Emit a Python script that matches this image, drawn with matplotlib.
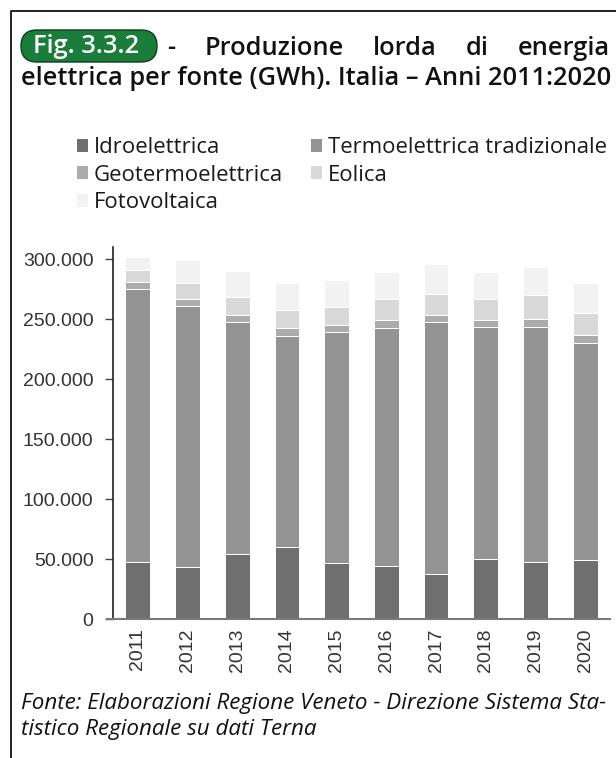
import matplotlib
matplotlib.use("Agg")
import matplotlib.pyplot as plt
from matplotlib.patches import FancyBboxPatch, Patch
from matplotlib.lines import Line2D
from matplotlib.ticker import FuncFormatter

# Gross electricity production by source, Italy (GWh)
years = ["2011", "2012", "2013", "2014", "2015", "2016", "2017", "2018", "2019", "2020"]
idroelettrica = [47757, 43854, 54672, 60256, 46969, 44257, 38025, 50503, 48154, 49495]
termoelettrica = [227700, 217400, 193100, 176200, 192100, 198800, 209500, 192700, 195800, 181100]
geotermoelettrica = [5654, 5592, 5659, 5916, 6185, 6289, 6201, 6105, 6075, 6026]
eolica = [9856, 13407, 14897, 15178, 14844, 17689, 17742, 17716, 20202, 18762]
fotovoltaica = [10796, 18862, 21589, 22306, 22942, 22104, 24378, 22654, 23689, 24942]

series_names = ["Idroelettrica", "Termoelettrica tradizionale", "Geotermoelettrica",
                "Eolica", "Fotovoltaica"]
series_values = [idroelettrica, termoelettrica, geotermoelettrica, eolica, fotovoltaica]
series_colors = ["#6f6f6f", "#939393", "#acacac", "#d9d9d9", "#f2f2f2"]

W, H = 616, 758
fig = plt.figure(figsize=(W / 100, H / 100), dpi=100)
fig.patch.set_facecolor("white")

TEXT_FONT = ["Open Sans", "DejaVu Sans"]
AXIS_FONT = ["Liberation Sans", "DejaVu Sans"]

fig.canvas.draw()
renderer = fig.canvas.get_renderer()


def px(x, y):
    """Figure fraction from pixel position measured from the top-left corner."""
    return x / W, 1 - y / H


def fitted_size(text, target_px, **kw):
    """Font size at which the text spans target_px pixels."""
    t = fig.text(0, 0, text, fontsize=10, **kw)
    w = t.get_window_extent(renderer).width
    t.remove()
    return 10 * target_px / w


# Outer frame (left and top edges)
fig.add_artist(Line2D([11 / W, 11 / W, 1.0], [0.0, 1 - 11 / H, 1 - 11 / H],
                      transform=fig.transFigure, color="#111111", lw=1.3))

# Chart area
ax_left, ax_right, ax_top, ax_bottom = 113, 610, 247.3, 619.3
ax = fig.add_axes([ax_left / W, 1 - ax_bottom / H, (ax_right - ax_left) / W,
                   (ax_bottom - ax_top) / H])

x = range(len(years))
bottom = [0] * len(years)
for name, vals, col in zip(series_names, series_values, series_colors):
    ax.bar(x, vals, width=0.5, bottom=bottom, color=col, edgecolor="white",
           linewidth=0.7, label=name, zorder=2)
    bottom = [b + v for b, v in zip(bottom, vals)]

ax.set_xlim(-0.5, len(years) - 0.5)
ax.set_ylim(0, 310000)
ax.set_yticks([0, 50000, 100000, 150000, 200000, 250000, 300000])
ax.yaxis.set_major_formatter(FuncFormatter(lambda v, p: f"{int(v):,}".replace(",", ".")))
ax.set_xticks(list(x))
ax.set_xticklabels(years, rotation=90)

for s in ["top", "right"]:
    ax.spines[s].set_visible(False)
ax.spines["left"].set_color("#222222")
ax.spines["left"].set_linewidth(1.2)
ax.spines["bottom"].set_visible(False)
# baseline running slightly past the left spine
ax.add_line(Line2D([-0.013, 1.0], [0, 0], transform=ax.get_yaxis_transform(),
                   color="#7a7a7a", lw=1.5, clip_on=False, zorder=3))

ax.tick_params(axis="y", length=6, width=1.0, color="#444444", pad=8.0,
               labelsize=14, labelcolor="#333333")
ax.tick_params(axis="x", length=0, pad=6.5, labelsize=14, labelcolor="#333333")
for lab in ax.get_xticklabels() + ax.get_yticklabels():
    lab.set_family(AXIS_FONT)

# Legend, filled row by row
legend_size = fitted_size("Termoelettrica tradizionale", 278, family=TEXT_FONT)
handles = [Patch(facecolor=c, edgecolor="none") for c in series_colors]
order = [0, 2, 4, 1, 3]
leg = fig.legend([handles[i] for i in order], [series_names[i] for i in order],
                 ncol=2, loc="upper left", bbox_to_anchor=px(77, 137),
                 frameon=False, prop={"family": TEXT_FONT, "size": legend_size},
                 handlelength=0.52, handleheight=0.52, handletextpad=0.25,
                 columnspacing=1.25, labelspacing=0.3, borderaxespad=0,
                 borderpad=0)
for t in leg.get_texts():
    t.set_color("#1a1a1a")

# Title: green badge followed by a justified first line
badge = FancyBboxPatch(px(21, 62), (157 - 21) / W, (62 - 30) / H,
                       boxstyle="round,pad=0,rounding_size=0.026",
                       transform=fig.transFigure, facecolor="#1b7d3a",
                       edgecolor="#0d3d1c", lw=1.0, mutation_aspect=W / H)
fig.add_artist(badge)
fig.text(*px(86, 46.5), "Fig. 3.3.2", color="white",
         fontsize=fitted_size("Fig. 3.3.2", 106, family=TEXT_FONT,
                              fontweight="semibold"),
         family=TEXT_FONT, fontweight="semibold", ha="center", va="center")

line2 = "elettrica per fonte (GWh). Italia \u2013 Anni 2011:2020"
title_weight = "semibold"
title_size = fitted_size(line2, 589, family=TEXT_FONT, fontweight=title_weight)
line1_words = ["-", "Produzione", "lorda", "di", "energia"]
line1_y = 55
word_artists = []
for w in line1_words:
    t = fig.text(0, 0, w, fontsize=title_size, fontweight=title_weight,
                 family=TEXT_FONT, color="#111111", ha="left", va="baseline")
    word_artists.append(t)
widths = [t.get_window_extent(renderer).width for t in word_artists]
start, end = 167, 610
gap = (end - start - sum(widths)) / (len(widths) - 1)
cur = start
for t, wdt in zip(word_artists, widths):
    t.set_position(px(cur, line1_y))
    cur += wdt + gap

fig.text(*px(21, 85), line2, fontsize=title_size, fontweight=title_weight,
         family=TEXT_FONT, color="#111111", ha="left", va="baseline")

# Source note
note1 = "Fonte: Elaborazioni Regione Veneto - Direzione Sistema Sta-"
note_size = fitted_size(note1, 586, family=TEXT_FONT, style="italic")
fig.text(*px(21, 709), note1, fontsize=note_size, style="italic",
         family=TEXT_FONT, color="#111111", ha="left", va="baseline")
fig.text(*px(21, 735), "tistico Regionale su dati Terna", fontsize=note_size,
         style="italic", family=TEXT_FONT, color="#111111",
         ha="left", va="baseline")

fig.savefig("out.png", dpi=100)
